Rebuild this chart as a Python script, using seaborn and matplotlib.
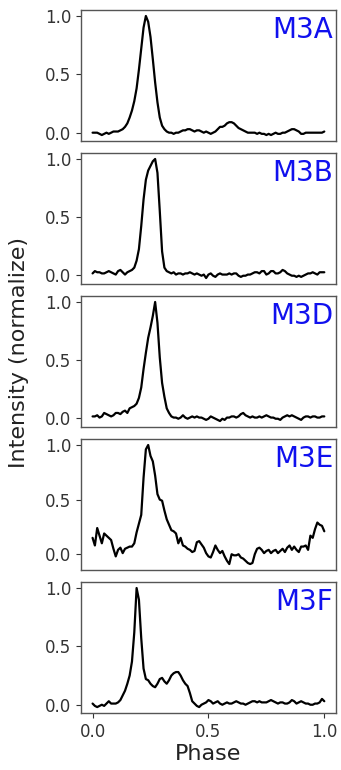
import numpy as np
import pandas as pd
import matplotlib
matplotlib.use("Agg")
import matplotlib.pyplot as plt
import seaborn as sns

# Pulse phase grid shared by all profiles
phase = np.round(np.arange(0, 101) / 100, 2)

# Normalised pulse profiles, one per source
m3a = [0.00, 0.00, 0.00, -0.01, -0.02, -0.01, 0.00, -0.01, 0.00, 0.01,
       0.01, 0.01, 0.02, 0.03, 0.05, 0.08, 0.13, 0.19, 0.27, 0.38,
       0.54, 0.72, 0.90, 1.00, 0.95, 0.82, 0.63, 0.43, 0.26, 0.13,
       0.06, 0.03, 0.01, 0.00, 0.00, -0.01, 0.00, 0.00, 0.01, 0.02,
       0.02, 0.03, 0.03, 0.02, 0.01, 0.02, 0.02, 0.01, 0.00, 0.01,
       0.00, -0.01, 0.00, 0.01, 0.03, 0.05, 0.05, 0.06, 0.08, 0.09,
       0.09, 0.08, 0.06, 0.04, 0.03, 0.02, 0.01, 0.00, 0.00, 0.00,
       0.00, -0.01, 0.00, -0.01, -0.01, -0.02, -0.01, -0.02, -0.01, 0.00,
       -0.01, -0.01, 0.00, 0.00, 0.01, 0.02, 0.03, 0.03, 0.02, 0.01,
       -0.01, -0.01, 0.00, 0.00, 0.00, 0.00, 0.00, 0.00, 0.00, 0.00,
       0.01]

m3b = [0.01, 0.03, 0.02, 0.02, 0.01, 0.01, 0.02, 0.03, 0.02, 0.01,
       0.00, 0.03, 0.04, 0.02, 0.00, 0.02, 0.03, 0.04, 0.06, 0.12,
       0.22, 0.42, 0.65, 0.82, 0.90, 0.94, 0.98, 1.00, 0.88, 0.55,
       0.20, 0.06, 0.03, 0.02, 0.01, 0.02, 0.00, 0.01, 0.01, 0.00,
       0.01, 0.01, 0.02, 0.01, 0.00, 0.01, 0.00, -0.01, 0.00, -0.03,
       0.00, 0.01, -0.01, -0.02, 0.00, 0.01, 0.00, 0.00, 0.00, 0.01,
       0.00, 0.01, 0.01, -0.01, -0.02, -0.01, -0.01, 0.00, 0.00, 0.01,
       0.02, 0.02, 0.01, 0.03, 0.03, 0.00, 0.01, 0.03, 0.03, 0.01,
       0.01, 0.02, 0.04, 0.03, 0.01, 0.00, -0.01, -0.01, -0.02, -0.01,
       -0.02, -0.01, 0.00, 0.01, 0.01, 0.02, 0.01, 0.00, 0.02, 0.02,
       0.02]

m3d = [0.01, 0.01, 0.02, 0.00, 0.01, 0.04, 0.03, 0.02, 0.01, 0.02,
       0.04, 0.04, 0.03, 0.05, 0.06, 0.04, 0.08, 0.09, 0.10, 0.12,
       0.17, 0.26, 0.42, 0.56, 0.69, 0.78, 0.88, 1.00, 0.82, 0.52,
       0.30, 0.18, 0.08, 0.04, 0.01, 0.00, 0.00, -0.01, 0.00, 0.02,
       0.00, -0.01, 0.00, 0.01, 0.00, 0.01, 0.00, 0.00, -0.01, -0.02,
       -0.01, 0.01, 0.00, -0.01, -0.02, -0.03, -0.01, -0.02, 0.00, 0.00,
       0.01, 0.01, 0.00, 0.01, 0.03, 0.04, 0.02, 0.01, 0.00, 0.01,
       0.00, 0.00, 0.01, 0.00, 0.01, 0.02, 0.01, 0.00, 0.00, -0.01,
       -0.01, -0.02, 0.00, 0.01, 0.02, 0.01, 0.02, 0.01, 0.00, -0.01,
       -0.02, 0.00, 0.01, 0.01, 0.00, 0.01, 0.01, 0.00, 0.00, 0.01,
       0.01]

m3e = [0.15, 0.08, 0.24, 0.17, 0.10, 0.19, 0.17, 0.15, 0.13, 0.05,
       -0.02, 0.04, 0.06, 0.01, 0.05, 0.06, 0.07, 0.07, 0.10, 0.20,
       0.28, 0.36, 0.70, 0.96, 1.00, 0.90, 0.85, 0.72, 0.55, 0.50,
       0.49, 0.40, 0.32, 0.27, 0.22, 0.21, 0.19, 0.10, 0.15, 0.08,
       0.07, 0.05, 0.04, 0.02, 0.03, 0.11, 0.12, 0.09, 0.06, 0.01,
       -0.02, -0.03, 0.02, 0.08, 0.04, 0.01, 0.03, -0.02, -0.06, -0.09,
       0.00, -0.01, -0.01, 0.00, -0.03, -0.04, -0.06, -0.08, -0.09, -0.08,
       0.00, 0.05, 0.06, 0.04, 0.01, 0.03, 0.04, 0.01, 0.03, 0.04,
       0.01, 0.03, 0.05, 0.02, 0.06, 0.08, 0.04, 0.07, 0.04, 0.02,
       0.07, 0.07, 0.08, 0.04, 0.17, 0.15, 0.23, 0.29, 0.27, 0.26,
       0.21]

m3f = [0.01, -0.01, -0.02, -0.01, 0.00, -0.01, 0.01, 0.03, 0.01, 0.01,
       0.01, 0.02, 0.04, 0.08, 0.12, 0.18, 0.25, 0.37, 0.62, 1.00,
       0.90, 0.57, 0.31, 0.22, 0.21, 0.18, 0.16, 0.15, 0.18, 0.22,
       0.23, 0.20, 0.18, 0.21, 0.25, 0.27, 0.28, 0.28, 0.25, 0.21,
       0.18, 0.16, 0.10, 0.03, 0.01, -0.01, -0.02, 0.00, 0.01, 0.02,
       0.04, 0.03, 0.01, 0.02, 0.03, 0.01, 0.00, 0.01, 0.02, 0.01,
       0.01, 0.02, 0.03, 0.02, 0.01, 0.01, 0.00, 0.01, 0.02, 0.03,
       0.03, 0.02, 0.03, 0.02, 0.02, 0.02, 0.03, 0.04, 0.03, 0.02,
       0.01, 0.02, 0.02, 0.01, 0.01, 0.02, 0.04, 0.03, 0.01, 0.02,
       0.03, 0.02, 0.01, 0.01, 0.00, 0.00, 0.01, 0.01, 0.02, 0.05,
       0.03]

names = ["M3A", "M3B", "M3D", "M3E", "M3F"]
profiles = [m3a, m3b, m3d, m3e, m3f]
yticks = [0.0, 0.5, 1.0]
xticks = [0.0, 0.5, 1.0]

sns.set_style("ticks")
plt.rcParams["font.family"] = ["DejaVu Sans"]

fig, axes = plt.subplots(
    len(names), 1, figsize=(3.41, 7.70), dpi=100, sharex=True,
    gridspec_kw=dict(left=0.2375, right=0.985, top=0.987, bottom=0.074,
                     hspace=0.092),
)

for ax, name, prof in zip(axes, names, profiles):
    df = pd.DataFrame({"Phase": phase, "Intensity": prof})
    sns.lineplot(data=df, x="Phase", y="Intensity", ax=ax,
                 color="black", linewidth=1.6)
    ax.set_yticks(yticks)
    ax.set_xlabel("")
    ax.set_ylabel("")
    ax.tick_params(labelsize=12, colors="#333333")
    for sp in ax.spines.values():
        sp.set_color("#555555")
        sp.set_linewidth(1.0)
    ax.text(0.99, 0.955, name, transform=ax.transAxes, ha="right", va="top",
            fontsize=20, color="#1010ee")

for ax in axes[:-1]:
    ax.tick_params(axis="x", bottom=False, labelbottom=False)

axes[-1].set_xticks(xticks)
axes[-1].set_xlabel("Phase", fontsize=16, color="#222222", labelpad=2)

fig.text(0.055, 0.542, "Intensity (normalize)", rotation=90, fontsize=16,
         color="#222222", ha="center", va="center")

fig.savefig("out.png", dpi=100)
